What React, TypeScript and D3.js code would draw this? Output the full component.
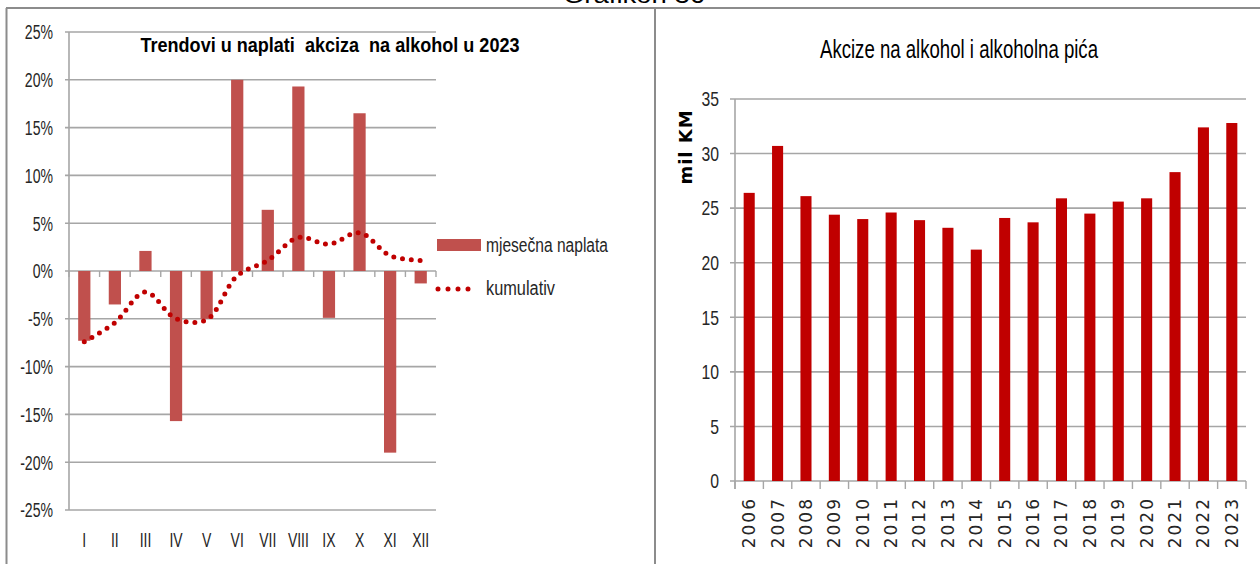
import React from "react";
import * as d3 from "d3";

const months = ["I", "II", "III", "IV", "V", "VI", "VII", "VIII", "IX", "X", "XI", "XII"];
const monthlyCollection = [-7.3, -3.5, 2.1, -15.7, -5.0, 20.0, 6.4, 19.3, -4.9, 16.5, -19.0, -1.3];
const cumulative = [-7.4, -5.4, -2.2, -5.0, -5.1, -0.5, 1.1, 3.5, 2.8, 4.0, 1.6, 1.1];
const pctTicks = [25, 20, 15, 10, 5, 0, -5, -10, -15, -20, -25];

const years = ["2006", "2007", "2008", "2009", "2010", "2011", "2012", "2013", "2014", "2015", "2016", "2017", "2018", "2019", "2020", "2021", "2022", "2023"];
const exciseValues = [26.4, 30.7, 26.1, 24.4, 24.0, 24.6, 23.9, 23.2, 21.2, 24.1, 23.7, 25.9, 24.5, 25.6, 25.9, 28.3, 32.4, 32.8];
const valueTicks = [0, 5, 10, 15, 20, 25, 30, 35];

const SANS = "'Liberation Sans', Arial, sans-serif";

type NTProps = {
  x: number;
  y: number;
  size: number;
  anchor?: "start" | "middle" | "end";
  weight?: string;
  sx?: number;
  fill?: string;
  children: React.ReactNode;
};

// Narrow-looking text: a regular sans face condensed horizontally
function NT({ x, y, size, anchor = "start", weight = "normal", sx = 0.8, fill = "#262626", children }: NTProps) {
  return (
    <text
      transform={`translate(${x},${y}) scale(${sx},1)`}
      dy="0.35em"
      textAnchor={anchor}
      fontFamily={SANS}
      fontSize={size}
      fontWeight={weight}
      fill={fill}
      style={{ whiteSpace: "pre" }}
    >
      {children}
    </text>
  );
}

function LeftChart() {
  const x = d3.scaleBand<string>().domain(months).range([69, 436]).paddingInner(0.6).paddingOuter(0.3);
  const y = d3.scaleLinear().domain([-25, 25]).range([510, 32]);
  const step = x.step();
  const x0 = 69;
  const line = d3
    .line<number>()
    .x((_, i) => (x(months[i]) as number) + x.bandwidth() / 2)
    .y((d) => y(d))
    .curve(d3.curveCatmullRom.alpha(0.5));
  return (
    <g>
      {pctTicks.map((t) => (
        <g key={t}>
          <line x1={65} x2={436} y1={y(t)} y2={y(t)} stroke="#a6a6a6" strokeWidth={1.6} />
          <NT x={53} y={y(t)} size={21} anchor="end" sx={0.67}>
            {t + "%"}
          </NT>
        </g>
      ))}
      <line x1={x0} x2={x0} y1={y(25)} y2={y(-25)} stroke="#a6a6a6" strokeWidth={1.6} />
      {monthlyCollection.map((v, i) => (
        <rect
          key={months[i]}
          x={x(months[i])}
          width={x.bandwidth()}
          y={y(Math.max(0, v))}
          height={Math.abs(y(v) - y(0))}
          fill="#c0504d"
        />
      ))}
      {d3.range(months.length + 1).map((i) => (
        <line key={i} x1={x0 + i * step} x2={x0 + i * step} y1={y(0)} y2={y(0) + 6} stroke="#a6a6a6" strokeWidth={1.4} />
      ))}
      <path
        d={line(cumulative) || ""}
        fill="none"
        stroke="#c00000"
        strokeWidth={5}
        strokeLinecap="round"
        strokeDasharray="0 8.8"
      />
      {months.map((m) => (
        <NT key={m} x={(x(m) as number) + x.bandwidth() / 2} y={540} size={20} anchor="middle" sx={0.7}>
          {m}
        </NT>
      ))}
      <text
        x={330}
        y={52}
        textAnchor="middle"
        fontFamily={SANS}
        fontSize={21}
        fontWeight="bold"
        fill="#000"
        textLength={379}
        lengthAdjust="spacingAndGlyphs"
        style={{ whiteSpace: "pre" }}
      >
        {"Trendovi u naplati  akciza  na alkohol u 2023"}
      </text>
      <rect x={437} y={239} width={44} height={12} fill="#c0504d" />
      <text x={486} y={245} dy="0.35em" fontFamily={SANS} fontSize={20} fill="#262626" textLength={122} lengthAdjust="spacingAndGlyphs">
        mjesečna naplata
      </text>
      <line x1={438} x2={478} y1={289} y2={289} stroke="#c00000" strokeWidth={5} strokeLinecap="round" strokeDasharray="0 10" />
      <text x={486} y={288} dy="0.35em" fontFamily={SANS} fontSize={20} fill="#262626" textLength={69} lengthAdjust="spacingAndGlyphs">
        kumulativ
      </text>
    </g>
  );
}

function RightChart() {
  const x = d3.scaleBand<string>().domain(years).range([735, 1246]).paddingInner(0.61).paddingOuter(0.305);
  const y = d3.scaleLinear().domain([0, 35]).range([481, 99]);
  const step = x.step();
  const x0 = 735;
  return (
    <g>
      {valueTicks.map((t) => (
        <g key={t}>
          <line x1={730} x2={1246} y1={y(t)} y2={y(t)} stroke="#a6a6a6" strokeWidth={1.6} />
          <NT x={719} y={y(t)} size={21} anchor="end" sx={0.75}>
            {t}
          </NT>
        </g>
      ))}
      <line x1={x0} x2={x0} y1={y(35)} y2={y(0) + 8} stroke="#a6a6a6" strokeWidth={1.6} />
      {d3.range(years.length + 1).map((i) => (
        <line key={i} x1={x0 + i * step} x2={x0 + i * step} y1={y(0)} y2={y(0) + 8} stroke="#a6a6a6" strokeWidth={1.4} />
      ))}
      {exciseValues.map((v, i) => (
        <rect key={years[i]} x={x(years[i])} width={x.bandwidth()} y={y(v)} height={y(0) - y(v)} fill="#c00000" />
      ))}
      {years.map((yr) => {
        const cx = (x(yr) as number) + x.bandwidth() / 2;
        return (
          <text
            key={yr}
            transform={`translate(${cx},497) rotate(-90)`}
            dy="0.35em"
            textAnchor="end"
            fontFamily="'DejaVu Sans', sans-serif"
            fontSize={17}
            letterSpacing={2}
            fill="#262626"
          >
            {yr}
          </text>
        );
      })}
      <text
        transform="translate(686,147) rotate(-90)"
        dy="0.35em"
        textAnchor="middle"
        fontFamily="'DejaVu Sans', sans-serif"
        fontWeight="bold"
        fontSize={18}
        letterSpacing={1}
        fill="#000"
      >
        mil KM
      </text>
      <text
        x={959}
        y={58}
        textAnchor="middle"
        fontFamily={SANS}
        fontSize={26}
        fill="#000"
        textLength={278}
        lengthAdjust="spacingAndGlyphs"
      >
        Akcize na alkohol i alkoholna pića
      </text>
    </g>
  );
}

export default function App() {
  return (
    <svg width={1260} height={564} style={{ position: "absolute", left: 0, top: 0, background: "#fff" }}>
      <rect x={0} y={0} width={1260} height={564} fill="#fff" />
      <text x={634} y={3} textAnchor="middle" fontFamily={SANS} fontSize={24} fill="#000" textLength={142} lengthAdjust="spacingAndGlyphs">
        Grafikon 36
      </text>
      <line x1={6} x2={1260} y1={8} y2={8} stroke="#8c8c8c" strokeWidth={2} />
      <line x1={6.5} x2={6.5} y1={8} y2={564} stroke="#8c8c8c" strokeWidth={2} />
      <line x1={655} x2={655} y1={8} y2={564} stroke="#8c8c8c" strokeWidth={2} />
      <LeftChart />
      <RightChart />
    </svg>
  );
}
